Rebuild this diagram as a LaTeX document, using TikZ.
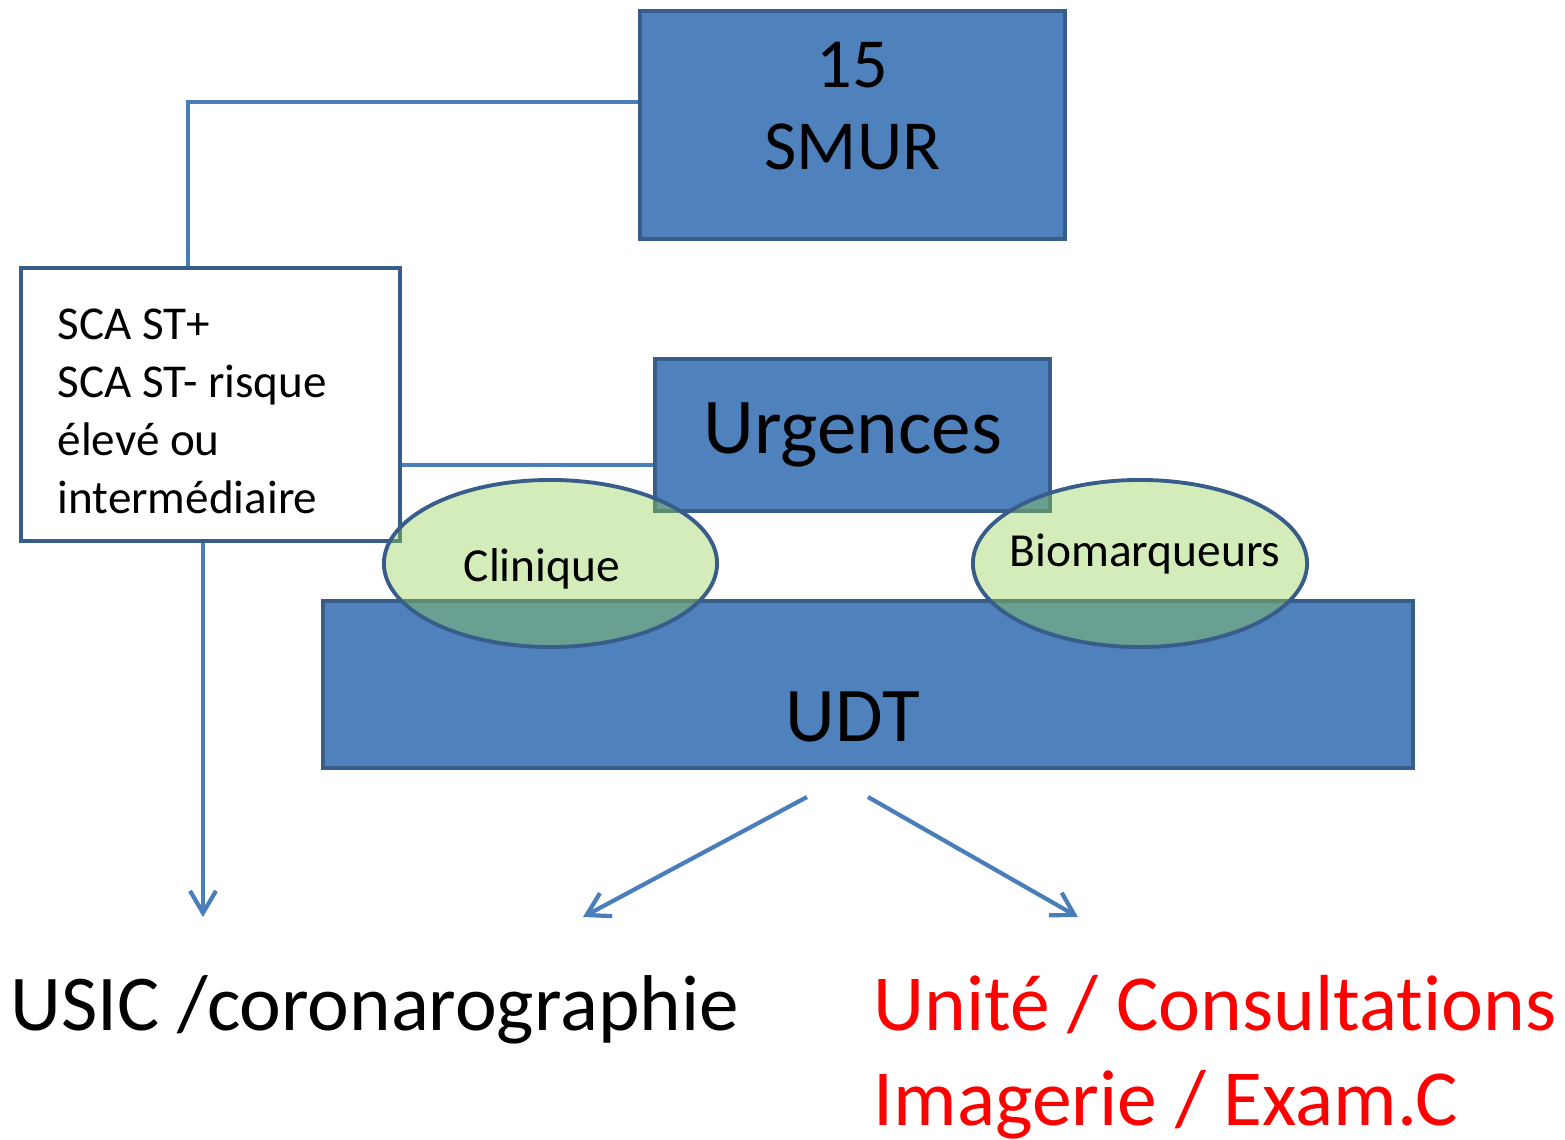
\documentclass[tikz,border=0pt]{standalone}
\usepackage{fontspec}
\setmainfont{Carlito}[Ligatures=CommonOff]
\usetikzlibrary{shapes.geometric,arrows.meta}
\definecolor{boxblue}{HTML}{4F81BD}
\definecolor{edgeblue}{HTML}{385D8A}
\definecolor{lineblue}{HTML}{4A7EBB}
\definecolor{leafgreen}{HTML}{92D050}
\definecolor{alertred}{HTML}{FF0000}
\tikzset{
  bluebox/.style={draw=edgeblue, fill=boxblue, line width=1.1pt, inner sep=0pt},
  bubble/.style={ellipse, draw=edgeblue, line width=1.1pt, fill=leafgreen, fill opacity=0.4, text opacity=1, inner sep=0pt},
  link/.style={lineblue, line width=1.2pt},
  arr/.style={link, -{Straight Barb[length=2.2mm,width=2.6mm]}}
}
\begin{document}
\begin{tikzpicture}[x=0.01cm, y=-0.01cm]
				\useasboundingbox (0,0) rectangle (1565,1140);
				
				% boxes
				\node[bluebox, minimum width=4.25cm, minimum height=2.28cm] (smur) at (852.5,125) {};
				\node[align=center, font=\fontsize{20}{23.3}\selectfont] (smurlabel) at (852.5,106) {15\\SMUR};
				\node[draw=edgeblue, fill=white, line width=1.1pt, minimum width=3.79cm, minimum height=2.73cm] (sca) at (210.5,404.5) {};
				\node[anchor=west, inner sep=0pt, align=left, font=\fontsize{13.4}{16.5}\selectfont] (scalabel) at (57,411)
					{SCA ST+\\SCA ST- risque\\élevé ou\\intermédiaire};
				\node[bluebox, minimum width=3.95cm, minimum height=1.52cm,
					font=\fontsize{22.5}{27}\selectfont] (urg) at (852.5,435) {Urgences};
				\node[bluebox, minimum width=10.9cm, minimum height=1.67cm] (udt) at (868,684.5) {};
				\node[font=\fontsize{22}{26}\selectfont] (udtlabel) at (853,717) {UDT};
				
				% links
				\coordinate (k) at (188,102);
				\draw[link] (k |- sca.north) -- (k) -- (k -| smur.west);
				\draw[link] (sca.east |- 0,465) -- (urg.west |- 0,465);
				
				% ellipses
				\node[bubble, minimum width=3.33cm, minimum height=1.67cm] (clin) at (550.5,563.5) {};
				\node[font=\fontsize{13.5}{16}\selectfont] at (542,569) {Clinique};
				\node[bubble, minimum width=3.34cm, minimum height=1.67cm] (bio) at (1140,563.5) {};
				\node[font=\fontsize{13.5}{16}\selectfont] at (1145,554) {Biomarqueurs};
				
				% arrows
				\coordinate (a1) at (203,917);
				\coordinate (s2) at (807,797);
				\coordinate (a2) at (583,917);
				\coordinate (s3) at (868,797);
				\coordinate (a3) at (1078,917);
				\draw[arr] (sca.south -| a1) -- (a1);
				\draw[arr] (s2) -- (a2);
				\draw[arr] (s3) -- (a3);
				
				% outcomes
				\node[anchor=west, inner sep=0pt, font=\fontsize{22.5}{27}\selectfont] (usic) at (10,1010)
					{USIC /coronarographie};
				\node[anchor=west, inner sep=0pt, align=left, text=alertred,
					font=\fontsize{22.6}{27}\selectfont] (unite) at (873,1057)
					{Unité / Consultations\\Imagerie / Exam.C};
			\end{tikzpicture}
\end{document}
